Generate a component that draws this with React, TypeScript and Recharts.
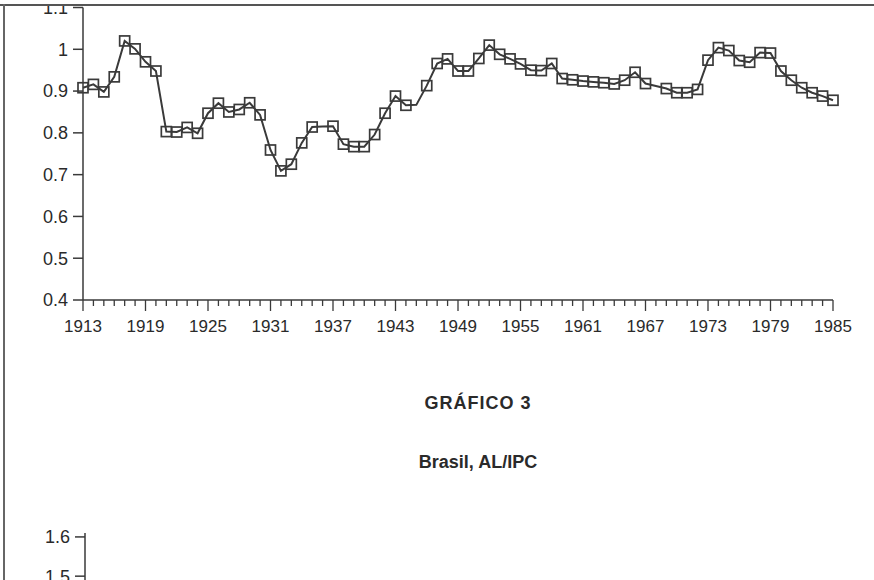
import React from "react";
import { LineChart, Line, XAxis, YAxis } from "recharts";

const years = [
  1913, 1914, 1915, 1916, 1917, 1918, 1919, 1920, 1921, 1922, 1923, 1924,
  1925, 1926, 1927, 1928, 1929, 1930, 1931, 1932, 1933, 1934, 1935, 1936,
  1937, 1938, 1939, 1940, 1941, 1942, 1943, 1944, 1945, 1946, 1947, 1948,
  1949, 1950, 1951, 1952, 1953, 1954, 1955, 1956, 1957, 1958, 1959, 1960,
  1961, 1962, 1963, 1964, 1965, 1966, 1967, 1968, 1969, 1970, 1971, 1972,
  1973, 1974, 1975, 1976, 1977, 1978, 1979, 1980, 1981, 1982, 1983, 1984,
  1985,
];

// AL/IPC
const alIpc = [
  0.908, 0.916, 0.898, 0.934, 1.02, 1.001, 0.97, 0.948, 0.803, 0.802, 0.813, 0.799,
  0.847, 0.871, 0.85, 0.856, 0.872, 0.843, 0.759, 0.709, 0.725, 0.776, 0.814, 0.815,
  0.816, 0.773, 0.767, 0.767, 0.796, 0.847, 0.888, 0.866, 0.867, 0.913, 0.966, 0.977,
  0.948, 0.948, 0.978, 1.01, 0.988, 0.977, 0.965, 0.95, 0.949, 0.966, 0.93, 0.927,
  0.924, 0.922, 0.92, 0.917, 0.926, 0.945, 0.918, 0.912, 0.906, 0.896, 0.896, 0.904,
  0.974, 1.004, 0.997, 0.973, 0.969, 0.992, 0.991, 0.948, 0.926, 0.908, 0.896, 0.888,
  0.878,
];

// years whose square did not print in the original
const unmarkedYears = [1936, 1945, 1968];

const labeledYears = [1913, 1919, 1925, 1931, 1937, 1943, 1949, 1955, 1961, 1967, 1973, 1979, 1985];
const yTicks = [0.4, 0.5, 0.6, 0.7, 0.8, 0.9, 1.0, 1.1];
const nextChartTicks = [1.0, 1.1, 1.2, 1.3, 1.4, 1.5, 1.6];

const data = years.map((year, i) => ({ year, value: alIpc[i] }));

const INK = "#3a3a3a";
const FONT = '"Liberation Sans", Arial, Helvetica, sans-serif';

const fmt = (v: number) => String(Number(v.toFixed(1)));

const YearTick = ({ x, y, payload }: any) => {
  const major = labeledYears.includes(payload.value);
  return (
    <g>
      <line x1={x} x2={x} y1={y} y2={y + (major ? 11 : 6)} stroke={INK} strokeWidth={1.3} />
      {major && (
        <text x={x} y={y + 32} textAnchor="middle" fontSize={17} fill="#2a2a2a" fontFamily={FONT}>
          {payload.value}
        </text>
      )}
    </g>
  );
};

const SquareDot = ({ cx, cy, payload }: any) => {
  if (cx == null || cy == null || unmarkedYears.includes(payload.year)) return <g />;
  const s = 10;
  return (
    <rect x={cx - s / 2} y={cy - s / 2} width={s} height={s} fill="none" stroke={INK} strokeWidth={1.7} />
  );
};

export default function App() {
  return (
    <div
      style={{
        position: "relative",
        width: 874,
        height: 580,
        overflow: "hidden",
        background: "#fff",
        fontFamily: FONT,
      }}
    >
      <style>{`body{margin:0}`}</style>

      <div style={{ position: "absolute", left: 0, top: 0 }}>
        <LineChart width={874} height={340} data={data} margin={{ top: 7.5, right: 41, left: 0, bottom: 0 }}>
          <XAxis
            dataKey="year"
            type="number"
            domain={[1913, 1985]}
            ticks={years}
            interval={0}
            tickLine={false}
            tickSize={0}
            tickMargin={0}
            axisLine={{ stroke: INK, strokeWidth: 1.5 }}
            tick={<YearTick />}
            height={40}
          />
          <YAxis
            type="number"
            domain={[0.4, 1.1]}
            ticks={yTicks}
            interval={0}
            width={83}
            tickSize={10}
            tickMargin={5}
            tickFormatter={fmt}
            axisLine={{ stroke: INK, strokeWidth: 1.5 }}
            tickLine={{ stroke: INK, strokeWidth: 1.5 }}
            tick={{ fontSize: 18, fill: "#2a2a2a", fontFamily: FONT }}
            allowDataOverflow
          />
          <Line
            type="linear"
            dataKey="value"
            stroke={INK}
            strokeWidth={2}
            dot={<SquareDot />}
            activeDot={false}
            isAnimationActive={false}
          />
        </LineChart>
      </div>

      <div
        style={{
          position: "absolute",
          left: 0,
          width: 874,
          top: 393,
          textAlign: "center",
          paddingLeft: 82,
          boxSizing: "border-box",
          fontWeight: "bold",
          fontSize: 18,
          letterSpacing: 1,
          color: "#2a2a2a",
        }}
      >
        GRÁFICO 3
      </div>
      <div
        style={{
          position: "absolute",
          left: 0,
          width: 874,
          top: 452,
          textAlign: "center",
          paddingLeft: 82,
          boxSizing: "border-box",
          fontWeight: "bold",
          fontSize: 18,
          color: "#2a2a2a",
        }}
      >
        Brasil, AL/IPC
      </div>

      <div style={{ position: "absolute", left: 0, top: 513 }}>
        <LineChart width={874} height={279} data={data} margin={{ top: 20, right: 41, left: 0, bottom: 0 }}>
          <XAxis dataKey="year" type="number" domain={[1913, 1985]} hide />
          <YAxis
            type="number"
            domain={[0.95, 1.61]}
            ticks={nextChartTicks}
            interval={0}
            width={85}
            tickSize={10}
            tickMargin={5}
            tickFormatter={fmt}
            axisLine={{ stroke: INK, strokeWidth: 1.5 }}
            tickLine={{ stroke: INK, strokeWidth: 1.5 }}
            tick={{ fontSize: 18, fill: "#2a2a2a", fontFamily: FONT }}
            allowDataOverflow
          />
        </LineChart>
      </div>

      <div style={{ position: "absolute", left: 0, top: 0, width: 874, height: 4, background: "#fff" }} />
      <div style={{ position: "absolute", left: 0, top: 4, width: 874, height: 2, background: "#555" }} />
      <div style={{ position: "absolute", left: 3, top: 4, width: 2, height: 576, background: "#666" }} />
    </div>
  );
}
